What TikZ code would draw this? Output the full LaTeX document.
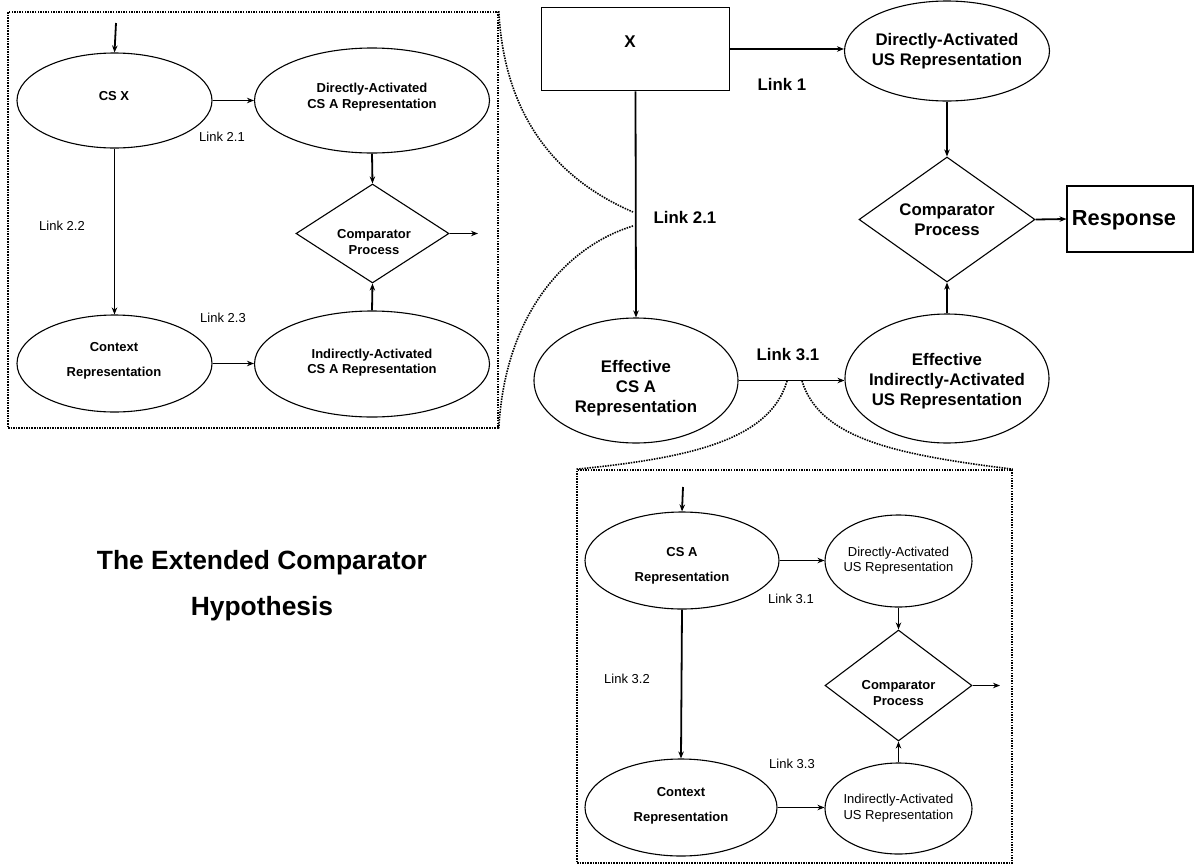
\documentclass[tikz,border=0pt]{standalone}
\usepackage{fontspec}
\setmainfont{Liberation Sans}
\usetikzlibrary{shapes.geometric,arrows.meta}
\begin{document}
\begin{tikzpicture}[x=1pt,y=-1pt,
 shp/.style={draw, line width=1.1pt, inner sep=0pt},
 ell/.style={shp, ellipse},
 dia/.style={shp, diamond},
 boxx/.style={shp, rectangle},
 arr/.style={line width=1.8pt, -{Stealth[length=7pt,width=5.5pt]}},
 dots/.style={line width=1.6pt, dash pattern=on 1.5pt off 1.1pt},
 tM/.style={font=\fontsize{16.8}{20.2}\selectfont\bfseries, align=center, inner sep=0pt},
 tS/.style={font=\fontsize{13}{15.7}\selectfont\bfseries, align=center, inner sep=0pt},
 tSw/.style={font=\fontsize{13}{25}\selectfont\bfseries, align=center, inner sep=0pt},
 tR/.style={font=\fontsize{13}{15.3}\selectfont, align=center, inner sep=0pt},
 lnk/.style={font=\fontsize{13}{15}\selectfont, inner sep=0pt},
 lnkM/.style={font=\fontsize{16.8}{20}\selectfont\bfseries, inner sep=0pt},
]
\useasboundingbox (0,0) rectangle (1195,865);

% ---------- zoom boxes ----------
\node[draw, dots, minimum width=490pt, minimum height=416pt, inner sep=0pt] (zoomA) at (253,220) {};
\node[draw, dots, minimum width=435pt, minimum height=393pt, inner sep=0pt] (zoomB) at (794.5,666.5) {};

% ---------- main diagram ----------
\node[boxx, minimum width=187.6pt, minimum height=83.4pt] (X) at (635.5,49) {};
\node[tM, font=\fontsize{17}{20}\selectfont\bfseries] (Xt) at (630,42) {X};
\node[ell, minimum width=205pt, minimum height=100pt] (dus) at (947,51) {};
\node[tM] (dust) at (947,51) {Directly-Activated\\US Representation};
\node[dia, minimum width=176pt, minimum height=125pt] (cmp) at (947,219.5) {};
\node[tM] (cmpt) at (947,220) {Comparator\\Process};
\node[boxx, minimum width=126pt, minimum height=66pt] (resp) at (1130,219) {};
\node[tM, font=\fontsize{21.8}{24}\selectfont\bfseries] (respt) at (1124,220) {Response};
\node[ell, minimum width=204pt, minimum height=125pt] (eca) at (636,380.5) {};
\node[tM] (ecat) at (636,388) {Effective\\CS A\\Representation};
\node[ell, minimum width=204pt, minimum height=129pt] (eia) at (947,378.5) {};
\node[tM] (eiat) at (947,381) {Effective\\Indirectly-Activated\\US Representation};

\draw[arr] (X.east) -- (X.east -| dus.west);
\draw[arr] (X.south) -- (eca.north);
\draw[arr] (dus.south) -- (cmp.north);
\draw[arr] (cmp.east) -- (resp.west);
\draw[arr] (eca.east) -- (eca.east -| eia.west);
\draw[arr] (eia.north) -- (cmp.south);

\node[lnkM] (l1) at (782,84) {Link 1};
\node[lnkM] (l21m) at (685,217) {Link 2.1};
\node[lnkM] (l31m) at (788,355) {Link 3.1};

\coordinate (p21a) at (633,212);
\coordinate (p21b) at (633,226);
\coordinate (p31a) at (787,381);
\coordinate (p31b) at (802,381);

% ---------- top-left zoom ----------
\coordinate (inA) at (116,23);
\node[ell, minimum width=195pt, minimum height=95pt] (csx) at (114.5,100.5) {};
\node[tS] (csxt) at (114,96) {CS X};
\node[ell, minimum width=235pt, minimum height=105pt] (dcsa) at (372,100.5) {};
\node[tS] (dcsat) at (372,97) {Directly-Activated\\CS A Representation};
\node[dia, minimum width=153pt, minimum height=99pt] (cmp1) at (372.5,233.5) {};
\node[tS] (cmp1t) at (374,242) {Comparator\\Process};
\coordinate (outA) at (478,233.5);
\node[ell, minimum width=195pt, minimum height=97pt] (ctx1) at (114.5,363.5) {};
\node[tSw] (ctx1t) at (114,361) {Context\\Representation};
\node[ell, minimum width=235pt, minimum height=106pt] (ica) at (372,364) {};
\node[tS] (icat) at (372,362.5) {Indirectly-Activated\\CS A Representation};

\draw[arr] (inA) -- (csx.north);
\draw[arr] (csx.east) -- (csx.east -| dcsa.west);
\draw[arr] (csx.south) -- (ctx1.north);
\draw[arr] (ctx1.east) -- (ctx1.east -| ica.west);
\draw[arr] (dcsa.south) -- (cmp1.north);
\draw[arr] (ica.north) -- (cmp1.south);
\draw[arr] (cmp1.east) -- (outA);

\node[lnk] (l21) at (222,137) {Link 2.1};
\node[lnk] (l22) at (62,226) {Link 2.2};
\node[lnk] (l23) at (223,318) {Link 2.3};

% ---------- bottom zoom ----------
\coordinate (inB) at (683,487);
\node[ell, minimum width=194pt, minimum height=97pt] (csa) at (682,560.5) {};
\node[tSw] (csat) at (682,565.5) {CS A\\Representation};
\node[ell, minimum width=147pt, minimum height=92pt] (dus2) at (898.5,561) {};
\node[tR] (dus2t) at (898.5,560.5) {Directly-Activated\\US Representation};
\node[dia, minimum width=147pt, minimum height=111pt] (cmp2) at (898.5,685.5) {};
\node[tS] (cmp2t) at (898.5,693) {Comparator\\Process};
\coordinate (outB) at (1000,685.5);
\node[ell, minimum width=192pt, minimum height=97pt] (ctx2) at (681,807.5) {};
\node[tSw] (ctx2t) at (681,805.5) {Context\\Representation};
\node[ell, minimum width=147pt, minimum height=91pt] (ius) at (898.5,808.5) {};
\node[tR] (iust) at (898.5,808) {Indirectly-Activated\\US Representation};

\draw[arr] (inB) -- (csa.north);
\draw[arr] (csa.east) -- (csa.east -| dus2.west);
\draw[arr] (csa.south) -- (ctx2.north);
\draw[arr] (ctx2.east) -- (ctx2.east -| ius.west);
\draw[arr] (dus2.south) -- (cmp2.north);
\draw[arr] (ius.north) -- (cmp2.south);
\draw[arr] (cmp2.east) -- (outB);

\node[lnk] (l31) at (791,599) {Link 3.1};
\node[lnk] (l32) at (627,679) {Link 3.2};
\node[lnk] (l33) at (792,764) {Link 3.3};

% ---------- dotted zoom connectors ----------
\draw[dots] (zoomA.north east) .. controls (505,130) and (570,185) .. (p21a);
\draw[dots] (p21b) .. controls (570,245) and (505,310) .. (zoomA.south east);
\draw[dots] (p31a) .. controls (770,440) and (690,458) .. (zoomB.north west);
\draw[dots] (p31b) .. controls (820,440) and (900,455) .. (zoomB.north east);

% ---------- title ----------
\node[font=\fontsize{26.4}{46}\selectfont\bfseries, align=center, inner sep=0pt] (title) at (262,586) {The Extended Comparator\\Hypothesis};
\end{tikzpicture}
\end{document}
